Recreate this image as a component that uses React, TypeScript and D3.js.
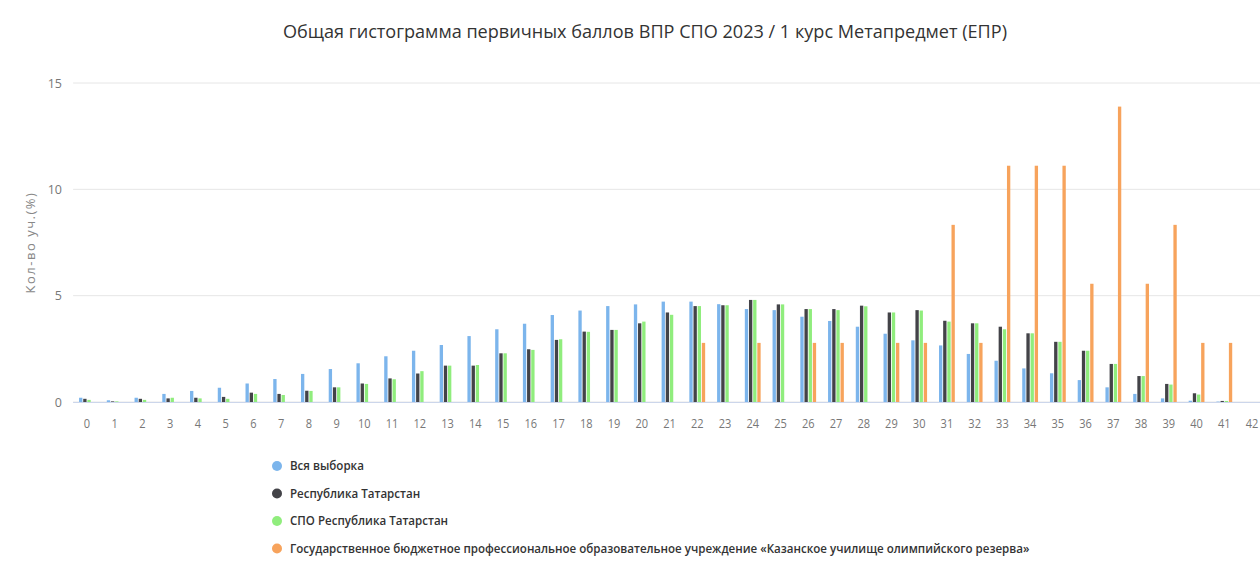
import React from "react";
import * as d3 from "d3";

const title = "Общая гистограмма первичных баллов ВПР СПО 2023 / 1 курс Метапредмет (ЕПР)";
const yAxisTitle = "Кол-во уч.(%)";
const categories = d3.range(0, 43).map(String);
const yTicks = [0, 5, 10, 15];

const seriesNames = [
  "Вся выборка",
  "Республика Татарстан",
  "СПО Республика Татарстан",
  "Государственное бюджетное профессиональное образовательное учреждение «Казанское училище олимпийского резерва»",
];
const seriesColors = ["#7cb5ec", "#434348", "#90ed7d", "#f7a35c"];

const allSample = [0.2, 0.08, 0.2, 0.38, 0.52, 0.67, 0.87, 1.08, 1.32, 1.55, 1.82, 2.15, 2.41, 2.68, 3.1, 3.42, 3.68, 4.09, 4.3, 4.51, 4.59, 4.72, 4.72, 4.6, 4.37, 4.32, 4.01, 3.81, 3.54, 3.21, 2.9, 2.66, 2.26, 1.94, 1.58, 1.35, 1.03, 0.69, 0.38, 0.17, 0.06, 0.02, 0];
const tatarstan = [0.15, 0.03, 0.15, 0.17, 0.2, 0.24, 0.44, 0.38, 0.53, 0.69, 0.87, 1.11, 1.34, 1.71, 1.71, 2.29, 2.48, 2.92, 3.31, 3.39, 3.7, 4.21, 4.51, 4.55, 4.8, 4.59, 4.37, 4.37, 4.53, 4.21, 4.32, 3.82, 3.7, 3.54, 3.23, 2.83, 2.41, 1.79, 1.22, 0.85, 0.41, 0.05, 0];
const spoTatarstan = [0.1, 0.03, 0.1, 0.2, 0.17, 0.15, 0.38, 0.33, 0.52, 0.69, 0.85, 1.07, 1.45, 1.71, 1.74, 2.29, 2.45, 2.95, 3.3, 3.39, 3.78, 4.1, 4.51, 4.55, 4.8, 4.59, 4.37, 4.32, 4.5, 4.21, 4.3, 3.78, 3.7, 3.42, 3.23, 2.83, 2.41, 1.79, 1.22, 0.82, 0.35, 0.05, 0];
const school = [0, 0, 0, 0, 0, 0, 0, 0, 0, 0, 0, 0, 0, 0, 0, 0, 0, 0, 0, 0, 0, 0, 2.78, 0, 2.78, 0, 2.78, 2.78, 0, 2.78, 2.78, 8.33, 2.78, 11.11, 11.11, 11.11, 5.56, 13.89, 5.56, 8.33, 2.78, 2.78, 0];

const seriesValues = [allSample, tatarstan, spoTatarstan, school];

export default function App() {
  const W = 1260;
  const H = 563;
  const plotLeft = 73.1;
  const step = 27.74;
  const plotRight = plotLeft + step * categories.length;
  const yBase = 402;
  const yTop = 83;

  const x = d3.scaleBand<string>().domain(categories).range([plotLeft, plotRight]).paddingInner(0).paddingOuter(0);
  const groupPad = 0.2;
  const xInner = d3
    .scaleBand<number>()
    .domain(d3.range(seriesValues.length))
    .range([x.bandwidth() * groupPad, x.bandwidth() * (1 - groupPad)])
    .paddingInner(0.2)
    .paddingOuter(0.1);
  const y = d3.scaleLinear().domain([0, 15]).range([yBase, yTop]);

  const font = "'Open Sans', 'DejaVu Sans', sans-serif";
  const legendScale = 0.926;
  const legendX = 290;

  return (
    <svg
      width={W}
      height={H}
      style={{ position: "absolute", left: 0, top: 0, background: "#fff" }}
      fontFamily={font}
    >
      <rect x={0} y={0} width={W} height={H} fill="#fff" />
      <text x={645} y={38} textAnchor="middle" fontSize={18} fill="#333" textLength={724} lengthAdjust="spacingAndGlyphs">
        {title}
      </text>

      {yTicks.map((t) => (
        <g key={t}>
          <line x1={plotLeft} x2={W} y1={y(t)} y2={y(t)} stroke="#e6e6e6" strokeWidth={1} />
          <text x={62} y={y(t) + 4.5} textAnchor="end" fontSize={12.5} fill="#777">
            {t}
          </text>
        </g>
      ))}

      <text
        transform={`translate(35,${(yBase + yTop) / 2}) rotate(-90)`}
        textAnchor="middle"
        fontSize={13}
        letterSpacing={1.5}
        fill="#888"
      >
        {yAxisTitle}
      </text>

      {seriesValues.map((vals, si) => (
        <g key={si} fill={seriesColors[si]}>
          {vals.map((v, i) =>
            v > 0 ? (
              <rect
                key={i}
                x={(x(categories[i]) as number) + (xInner(si) as number)}
                width={xInner.bandwidth()}
                y={y(v)}
                height={yBase - y(v)}
              />
            ) : null
          )}
        </g>
      ))}

      <line x1={plotLeft} x2={W} y1={yBase + 0.5} y2={yBase + 0.5} stroke="#ccd6eb" strokeWidth={1} />

      {categories.map((c) => {
        const cx = (x(c) as number) + x.bandwidth() / 2;
        return (
          <text
            key={c}
            x={cx}
            y={428}
            textAnchor="middle"
            fontSize={13}
            fill="#777"
            transform={`translate(${cx * 0.15},0) scale(0.85,1)`}
          >
            {c}
          </text>
        );
      })}

      {seriesNames.map((name, i) => {
        const ly = 466 + i * 27.5;
        return (
          <g key={name}>
            <circle cx={277} cy={ly} r={5} fill={seriesColors[i]} />
            <text
              x={legendX}
              y={ly + 4.5}
              fontSize={12.5}
              fontWeight={600}
              fill="#333"
              transform={`translate(${legendX * (1 - legendScale)},0) scale(${legendScale},1)`}
            >
              {name}
            </text>
          </g>
        );
      })}
    </svg>
  );
}
